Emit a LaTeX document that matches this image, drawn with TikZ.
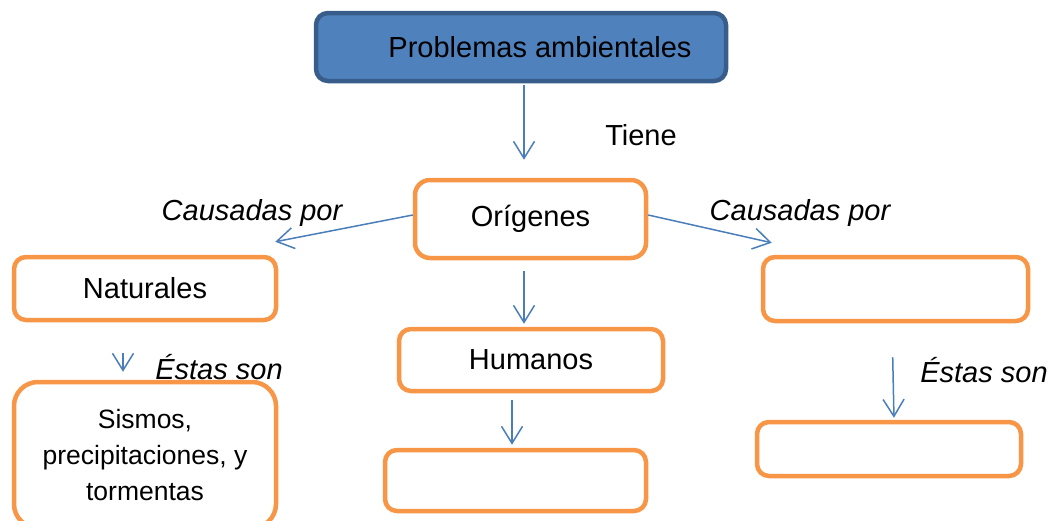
\documentclass[tikz,border=0pt]{standalone}
\usepackage{fontspec}
\setmainfont{Liberation Sans}
\usetikzlibrary{arrows.meta}
\definecolor{naranja}{HTML}{F79646}
\definecolor{azulfondo}{HTML}{4F81BD}
\definecolor{azulborde}{HTML}{385D8A}
\definecolor{azulflecha}{HTML}{4A7EBB}

\begin{document}
\begin{tikzpicture}[x=1pt, y=-1pt,
    every node/.append style={font=\fontsize{29}{35}\selectfont, inner sep=0pt},
    caja/.style={draw=naranja, line width=4.5pt, rounded corners=12pt, fill=white},
    flecha/.style={draw=azulflecha, line width=1.5pt, -{Straight Barb[length=17pt, width=21pt]}},
    rel/.style={font=\fontsize{29}{35}\selectfont\itshape}]
    \useasboundingbox (0,0) rectangle (1051,520);
    \node[draw=azulborde, fill=azulfondo, line width=4.5pt, rounded corners=12pt,
          minimum width=410pt, minimum height=68pt] (prob) at (521,47) {\hspace*{38pt}Problemas ambientales};
    \node[caja, rounded corners=15pt, minimum width=231pt, minimum height=78pt] (orig) at (530.5,219) {Orígenes\strut};
    \node[caja, minimum width=262pt, minimum height=63pt] (nat) at (145,288.5) {Naturales};
    \node[caja, minimum width=265pt, minimum height=64pt] (der) at (895.5,289) {};
    \node[caja, minimum width=264pt, minimum height=62pt] (hum) at (531,360) {Humanos};
    \node[caja, rounded corners=24pt, minimum width=262pt, minimum height=146pt, align=center,
          font=\fontsize{26.5}{36}\selectfont] (sis) at (145,455) {Sismos,\\precipitaciones, y\\tormentas};
    \node[caja, minimum width=261pt, minimum height=61pt] (humb) at (515.5,480.5) {};
    \node[caja, minimum width=264pt, minimum height=54pt] (derb) at (889,449) {};
    % etiquetas
    \node (tiene) at (641,135) {Tiene};
    \node[rel] (causi) at (252,213) {Causadas por};
    \node[rel] (causd) at (800,213) {Causadas por};
    \node[rel] (estai) at (219,367) {Éstas son};
    \node[rel] (estad) at (984,370) {Éstas son};
    % flechas
    \draw[flecha, shorten <=2pt, shorten >=18pt] ([xshift=3pt]prob.south) -- ([xshift=-6.5pt]orig.north);
    \draw[flecha] ([yshift=4pt]orig.west) -- ([xshift=-3pt, yshift=13pt]nat.north east);
    \draw[flecha] ([yshift=4pt]orig.east) -- ([xshift=11pt, yshift=12pt]der.north west);
    \draw[flecha, shorten <=11pt, shorten >=3pt] ([xshift=-6.5pt]orig.south) -- ([xshift=-7pt]hum.north);
    \draw[flecha, shorten <=7pt, shorten >=3pt] ([xshift=-19pt]hum.south) -- ([xshift=-3.5pt]humb.north);
    \draw[flecha, shorten <=31pt, shorten >=8pt] ([xshift=-22pt]nat.south) -- ([xshift=-22pt]sis.north);
    \draw[flecha, shorten <=34pt, shorten >=2pt] ([xshift=-3.5pt]der.south) -- ([xshift=5pt]derb.north);
\end{tikzpicture}
\end{document}
